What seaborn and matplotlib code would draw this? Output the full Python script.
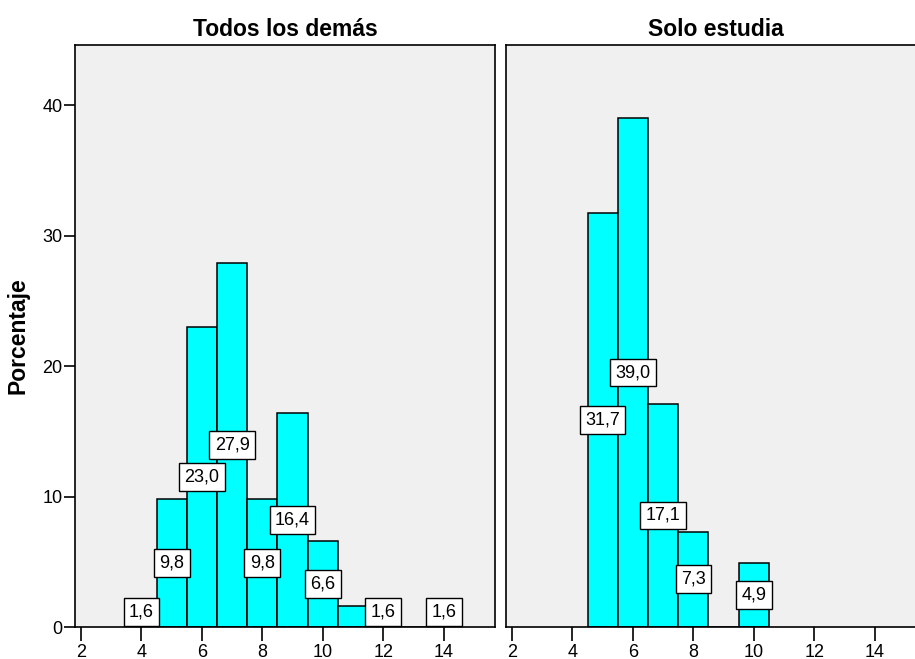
import matplotlib
matplotlib.use("Agg")
import matplotlib.pyplot as plt
import seaborn as sns
import numpy as np

# Data
panel_titles = ["Todos los demás", "Solo estudia"]
left_x = [4, 5, 6, 7, 8, 9, 10, 11, 12, 14]
left_pct = [1.6, 9.8, 23.0, 27.9, 9.8, 16.4, 6.6, 1.6, 1.6, 1.6]
left_labels = ["1,6", "9,8", "23,0", "27,9", "9,8", "16,4", "6,6", None, "1,6", "1,6"]
right_x = [5, 6, 7, 8, 10]
right_pct = [31.7, 39.0, 17.1, 7.3, 4.9]
right_labels = ["31,7", "39,0", "17,1", "7,3", "4,9"]
x_ticks = [2, 4, 6, 8, 10, 12, 14]
y_ticks = [0, 10, 20, 30, 40]

sns.set_style("white")
plt.rcParams['font.family'] = ['Liberation Sans', 'DejaVu Sans']
plt.rcParams['text.color'] = 'black'
plt.rcParams['axes.labelcolor'] = 'black'
plt.rcParams['xtick.color'] = 'black'
plt.rcParams['ytick.color'] = 'black'

fig = plt.figure(figsize=(9.15, 6.59), dpi=100)
W, H = 915, 659
def rect(l, t, r, b):
    return [l / W, 1 - b / H, (r - l) / W, (b - t) / H]

ax1 = fig.add_axes(rect(75, 45, 495, 627))
ax2 = fig.add_axes(rect(506, 45, 926, 627))

for ax, xs, ps, labs, title in [(ax1, left_x, left_pct, left_labels, panel_titles[0]),
                                (ax2, right_x, right_pct, right_labels, panel_titles[1])]:
    ax.set_facecolor("#F0F0F0")
    sns.histplot(x=xs, weights=ps, discrete=True, ax=ax, color="#00FFFF",
                 edgecolor="black", linewidth=1.1, alpha=1, zorder=2)
    for xv, pv, lab in zip(xs, ps, labs):
        if lab is None:
            continue
        ax.text(xv, max(pv / 2, 1.15), lab, ha="center", va="center", fontsize=13,
                color="black", zorder=5,
                bbox=dict(boxstyle="square,pad=0.3", facecolor="white", edgecolor="black", linewidth=1))
    ax.set_xlim(1.8, 15.7)
    ax.set_ylim(0, 44.6)
    ax.set_xticks(x_ticks)
    ax.set_xticklabels([str(t) for t in x_ticks])
    ax.set_title(title, fontsize=16.5, fontweight="bold", pad=6.5, color="black")
    ax.set_xlabel("")
    ax.set_ylabel("")
    for s in ax.spines.values():
        s.set_color("black")
        s.set_linewidth(1.2)
    ax.tick_params(axis="x", bottom=True, direction="out", length=10, width=1.2,
                   colors="black", pad=2, labelsize=13)

ax1.set_yticks(y_ticks)
ax1.set_yticklabels([str(t) for t in y_ticks])
ax1.tick_params(axis="y", left=True, direction="out", length=8, width=1.2, pad=1,
                labelsize=13, colors="black")
ax1.set_ylabel("Porcentaje", fontsize=16.5, fontweight="bold", labelpad=9, color="black")
ax2.set_yticks(y_ticks)
ax2.tick_params(axis="y", left=False, length=0, labelleft=False)
ax2.spines["right"].set_visible(False)

fig.savefig("out.png", dpi=100)
